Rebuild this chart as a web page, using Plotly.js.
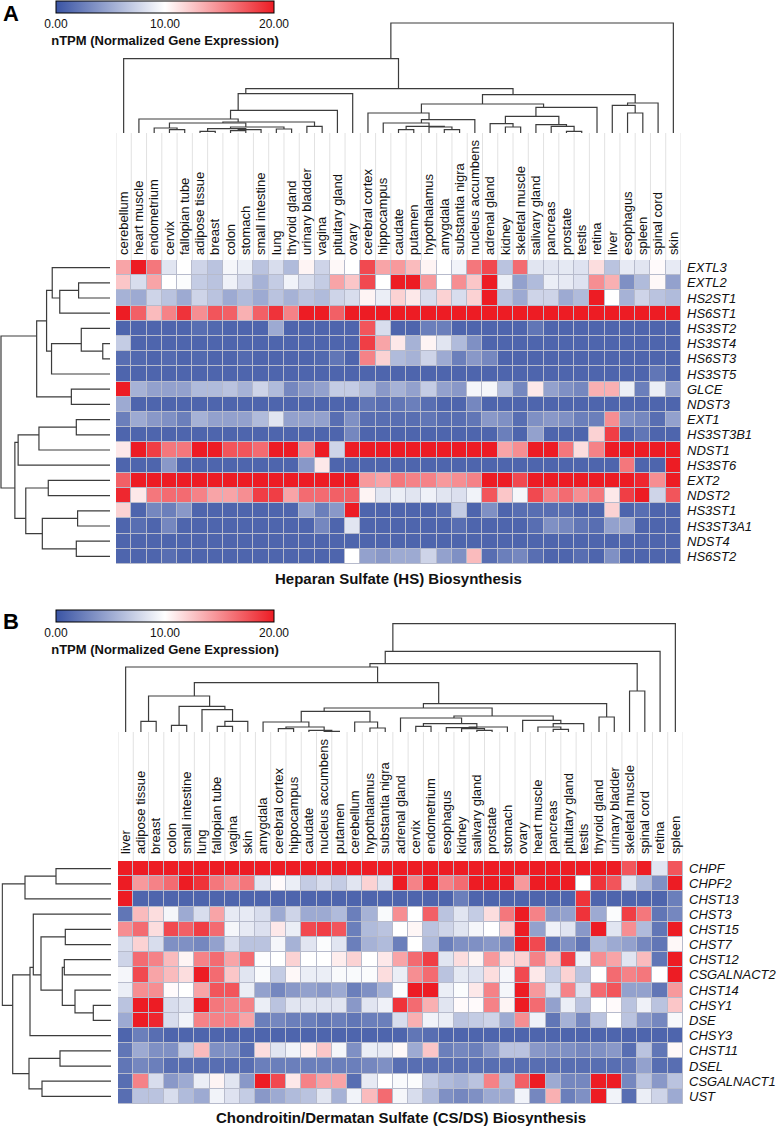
<!DOCTYPE html>
<html>
<head>
<meta charset="utf-8">
<script src="https://cdn.plot.ly/plotly-3.0.1.min.js"></script>
<style>
  html, body { margin: 0; padding: 0; background: #fff; }
  #chart { width: 777px; height: 1126px; }
</style>
</head>
<body>
<div id="chart"></div>
<script>
(function () {
    // Panel A : heparan sulfate genes / tissues
    const tissuesA = ['cerebellum', 'heart muscle', 'endometrium', 'cervix', 'fallopian tube', 'adipose tissue',
        'breast', 'colon', 'stomach', 'small intestine', 'lung', 'thyroid gland', 'urinary bladder', 'vagina',
        'pituitary gland', 'ovary', 'cerebral cortex', 'hippocampus', 'caudate', 'putamen', 'hypothalamus',
        'amygdala', 'substantia nigra', 'nucleus accumbens', 'adrenal gland', 'kidney', 'skeletal muscle',
        'salivary gland', 'pancreas', 'prostate', 'testis', 'retina', 'liver', 'esophagus', 'spleen',
        'spinal cord', 'skin'];
    const genesA = ['EXTL3', 'EXTL2', 'HS2ST1', 'HS6ST1', 'HS3ST2', 'HS3ST4', 'HS6ST3', 'HS3ST5', 'GLCE', 'NDST3',
        'EXT1', 'HS3ST3B1', 'NDST1', 'HS3ST6', 'EXT2', 'NDST2', 'HS3ST1', 'HS3ST3A1', 'NDST4', 'HS6ST2'];

    // nTPM values (row = gene, column = tissue)
    const exprA = [
        [14, 20, 16, 8.5, 10, 7.5, 6.5, 9.5, 9, 6.5, 8, 6, 10.5, 7.5, 10.3, 10, 18, 14, 14.5, 13, 10.5, 10, 9.3, 16, 18, 6.5, 16.5, 8.5, 8.5, 8.7, 8.3, 11.5, 6.5, 8.8, 8.5, 10.2, 8.8],
        [12.5, 8, 14, 10, 9.8, 7, 6.5, 9.2, 7.8, 5.5, 7, 9.3, 8, 7, 14, 12.5, 18, 10, 20, 20, 14.5, 10, 15, 12.5, 20, 9, 4.5, 6, 9, 8.8, 8.3, 15, 13.5, 3.5, 6, 10.3, 4.5],
        [5.5, 5, 7.5, 6.5, 5, 7.5, 6.5, 5, 6, 5, 6.5, 5.5, 6.5, 6, 7.5, 8, 10.5, 9, 12, 11, 8, 12, 8, 12, 20, 6.5, 5, 7.5, 7.5, 5, 6, 20, 10, 5.5, 7.5, 6.5, 6],
        [20, 17, 13, 15.5, 19, 15, 17.5, 17, 13.5, 17, 19, 15.5, 20, 20, 17, 20, 20, 20, 20, 20, 20, 20, 20, 20, 20, 20, 20, 20, 20, 20, 20, 20, 20, 20, 20, 20, 20],
        [1, 1, 1, 1, 1, 1.5, 1.2, 1, 1, 1, 5, 1, 1, 1, 1, 1, 17.5, 8, 1, 1, 2.5, 2.5, 1, 1, 1, 1, 1, 2, 1, 1, 1, 1, 1, 1, 1, 1, 1],
        [7, 1, 1, 1, 1, 1, 1, 1, 1, 1, 1, 1, 1, 1, 1, 1, 18.5, 14, 11, 5.5, 10.5, 8.5, 6, 3.5, 1, 1, 1, 1, 1, 1, 1, 1, 1, 1, 1, 1, 1],
        [1.5, 1.2, 1, 1.3, 1, 1.2, 1, 1, 1.3, 1, 1, 1, 1, 1.2, 2, 1, 15.5, 12, 6, 5.5, 7.5, 5, 2.5, 4, 3, 1, 1, 1, 1, 1, 1, 1, 1, 1, 1, 1, 1],
        [1, 1, 1, 1, 1, 1, 1, 1, 1, 1, 1, 1, 1, 1, 1, 1, 1, 1, 1, 1, 1, 1, 1, 1, 1, 1, 1, 1, 1, 1, 1, 1, 1, 1, 1, 2, 1],
        [20, 5.5, 4.5, 4.5, 4.5, 6, 6, 6.5, 5.5, 7.5, 6, 3, 4, 4.5, 7, 7, 6, 4, 5.5, 4.5, 7, 4.5, 4, 9.5, 9.5, 6, 3, 11, 4.5, 3.5, 3, 13.5, 13.5, 9, 2.5, 9, 4.5],
        [5, 1, 1, 1, 1, 1, 1, 1, 1, 1, 1, 1, 1, 1, 1, 1, 2, 1.5, 2, 2.5, 1.5, 1, 1, 3, 1, 1, 1, 1, 1, 1, 1, 1, 1, 1, 1, 1, 1],
        [2.5, 5, 4, 3.5, 2.5, 5.5, 4.5, 4.5, 4.5, 6, 8.5, 4.5, 4.5, 4.5, 1.5, 3.5, 1.5, 1.5, 1.5, 1.5, 2, 1.5, 1.5, 2, 4, 3.5, 1.5, 3.5, 4, 3.5, 2.5, 2.5, 15, 3.5, 3, 1.5, 4.5],
        [1, 1, 1, 1, 1, 1, 1, 1, 1, 1, 1, 1, 1, 1, 1, 3, 1, 1, 1, 1, 1, 1, 1, 1, 1, 2.5, 1, 4.5, 1, 1, 1, 12, 18.5, 1, 2, 1, 1],
        [11, 20, 18.5, 16, 16, 20, 20, 17.5, 17.5, 16.5, 20, 20, 15, 20, 7.5, 20, 20, 20, 20, 20, 20, 20, 20, 20, 20, 14, 15, 20, 20, 16, 11.5, 15.5, 20, 20, 20, 20, 20],
        [1, 1, 1, 4, 1, 1, 1, 1, 1, 1, 1, 1, 4, 11, 1, 1, 1, 1, 1, 1, 1, 1, 1, 1, 1, 1, 1, 1, 1, 1, 1, 1, 1, 16, 1, 1, 20],
        [17, 20, 20, 20, 20, 20, 20, 20, 20, 20, 20, 20, 20, 20, 20, 20, 14.5, 14, 16, 15.5, 15.5, 14.5, 15, 15.5, 20, 20, 18, 20, 20, 20, 20, 20, 20, 20, 19.5, 15, 20],
        [19.5, 11, 16, 16.5, 16.5, 15.5, 14, 14, 15, 18.5, 18.5, 14, 16.5, 16.5, 17, 17, 10.5, 8.5, 9, 8.5, 9.2, 8.5, 8.2, 9.3, 17.5, 12.5, 9.5, 18, 15.5, 16.5, 15, 16, 11, 18.5, 20, 7.5, 17.5],
        [12, 1, 3, 2.5, 4, 1, 1, 1, 1, 1, 1, 1, 4.5, 2.5, 4, 20, 1, 1, 1, 1, 1, 1.5, 7, 1, 3.5, 1, 1.5, 1.5, 1.5, 1.5, 1, 1, 12, 1, 1.5, 1, 1],
        [1, 1.5, 1, 3, 1, 1, 1, 1, 1, 1, 1, 1, 1, 3, 1, 8.5, 1, 1, 1, 1, 1, 1, 1.5, 1, 1, 1, 1, 1.5, 3.5, 3, 2, 1.5, 4.5, 4.5, 1, 1, 1],
        [1, 1, 1, 1, 1, 1, 1, 1, 1, 1, 1, 1, 1, 1, 1, 1, 1, 1, 1, 1, 1, 1, 1, 1, 1, 1, 1, 1, 1, 1, 1, 1, 1, 1, 1, 1, 1],
        [1, 1, 1, 1.5, 1, 1, 1, 1, 1, 1, 1, 1, 1, 1, 1, 10, 4.5, 4, 5, 5, 7.5, 4.5, 3.5, 13, 1.5, 2.5, 3, 1.5, 1, 1, 1.5, 1, 3.5, 1, 1, 1, 1]
    ];

    // Panel B : chondroitin / dermatan sulfate
    const tissuesB = ['liver', 'adipose tissue', 'breast', 'colon', 'small intestine', 'lung', 'fallopian tube',
        'vagina', 'skin', 'amygdala', 'cerebral cortex', 'hippocampus', 'caudate', 'nucleus accumbens', 'putamen',
        'cerebellum', 'hypothalamus', 'substantia nigra', 'adrenal gland', 'cervix', 'endometrium', 'esophagus',
        'kidney', 'salivary gland', 'prostate', 'stomach', 'ovary', 'heart muscle', 'pancreas', 'pituitary gland',
        'testis', 'thyroid gland', 'urinary bladder', 'skeletal muscle', 'spinal cord', 'retina', 'spleen'];
    const genesB = ['CHPF', 'CHPF2', 'CHST13', 'CHST3', 'CHST15', 'CHST7', 'CHST12', 'CSGALNACT2', 'CHST14',
        'CHSY1', 'DSE', 'CHSY3', 'CHST11', 'DSEL', 'CSGALNACT1', 'UST'];

    const exprB = [
        [20, 20, 20, 20, 20, 20, 20, 20, 20, 20, 20, 20, 20, 20, 20, 20, 20, 20, 20, 20, 20, 20, 20, 20, 20, 20, 20, 20, 20, 20, 20, 20, 20, 17.5, 20, 8.5, 17.5],
        [20, 14.5, 15.5, 16.5, 20, 19, 16, 15, 16, 8.5, 10.2, 9, 7, 8, 7, 8.5, 12, 8.5, 20, 15.5, 20, 15.5, 16.5, 20, 20, 20, 14.5, 20, 20, 20, 10, 19, 17.5, 8.5, 6, 3.5, 20],
        [20, 1, 1, 1, 1, 1, 1, 1, 1, 1, 1, 1, 1, 1, 1, 1, 1, 1, 1, 1, 1, 1, 2.5, 1, 1, 1, 1, 1, 1, 1, 19, 1, 1, 1, 1, 1, 2.5],
        [2, 13, 11.5, 9.5, 5, 8, 14, 8.8, 8.8, 8, 5, 7.5, 5, 5, 6, 2.5, 5.5, 9.7, 15, 10, 17, 6.5, 8.5, 7, 11.5, 16, 20, 15.5, 4, 4.5, 19, 5, 9.8, 18.5, 16, 2, 3],
        [15, 16.5, 11.5, 18, 17, 18.5, 16.5, 9.5, 8.8, 8.2, 11, 9, 18, 18.5, 17.5, 2.5, 6, 6.5, 10, 10.4, 6.5, 7.5, 8.5, 9.5, 10, 12, 20, 4.5, 9.2, 8.5, 4, 20, 8.5, 15, 6, 2, 20],
        [8, 12, 8, 3.5, 3.5, 3, 4.5, 8, 6.5, 6.5, 9.5, 5.5, 8.5, 9.8, 8.5, 2.5, 5.5, 6, 2.5, 10, 6, 2.5, 3.5, 3.5, 4, 3, 20, 18, 2, 3.5, 2, 6, 5, 4.5, 3, 2, 10.3],
        [7.5, 16.5, 15.5, 13, 10.5, 15.5, 16.5, 14, 16.5, 9.9, 10, 12, 10, 10, 10.8, 12, 10, 11, 14, 16.5, 18.5, 8.5, 11.5, 10.5, 14.5, 11.5, 12, 15.5, 12.5, 18.5, 9.2, 15, 14, 8.5, 13, 2, 20],
        [9.5, 18, 14, 13, 11.5, 20, 16.5, 12.5, 8.5, 9.7, 7, 10.3, 9, 9, 9.7, 9.7, 9.8, 11.5, 9, 15, 16.5, 6.5, 8.7, 8.3, 11.5, 9.5, 18, 11, 7, 12, 6.5, 10, 16.5, 15.5, 16, 10, 20],
        [9, 15, 15, 10.2, 10, 14, 17.5, 17.5, 9, 4.5, 3, 4, 4.5, 4, 5, 2.5, 3.5, 5.5, 9.8, 20, 20, 9, 9.8, 11, 15.5, 9.5, 20, 14.5, 8.3, 15.5, 8.3, 16.5, 17.5, 4.5, 4.5, 2, 14.5],
        [6.5, 20, 20, 8, 8.5, 20, 16, 15.5, 15.5, 9, 6.5, 8.5, 8.5, 8.5, 8.5, 4, 8.5, 9.2, 19, 16.5, 13.5, 8.5, 10.2, 10.2, 15.5, 10.5, 20, 16.5, 4.5, 9, 6.5, 10, 10.2, 6.5, 9.2, 6.5, 12.5],
        [5, 20, 19.5, 8, 9.3, 15.5, 15.5, 15.5, 14, 2.5, 3, 2.5, 2.5, 2, 2.5, 2, 2.5, 2.5, 8, 13.5, 9.3, 9, 6.5, 7, 7.5, 5, 15, 9.2, 2, 5.5, 3, 6.5, 10, 6.5, 4, 3, 9.6],
        [1, 2.5, 1.5, 1, 1, 1, 1, 1, 1, 1, 1, 1, 1, 1, 1, 1, 1, 1, 1, 2, 1.5, 1, 1, 1, 1, 1, 1, 1, 1, 1, 1, 1, 1, 1, 1, 1, 1],
        [2, 5, 3.5, 3.5, 7, 13, 3.5, 3.5, 1.5, 11.5, 8.5, 9.3, 10.8, 12.5, 9.5, 3.5, 9, 8.8, 10.3, 5, 12.5, 2.5, 3, 2.5, 4, 6.5, 6.5, 4, 3.5, 3.5, 3, 3.5, 4, 1.5, 6.5, 2, 10.3],
        [2, 3, 2.5, 1.5, 1.5, 1.5, 1.5, 1.5, 1.5, 2.5, 2.5, 2.5, 2.5, 2.5, 2.5, 2.5, 3, 3.5, 1.5, 1.5, 1.5, 1.5, 1.5, 1.5, 1.5, 1.5, 1.5, 1.5, 1.5, 1.5, 1.5, 1.5, 1.5, 2, 4.5, 1.5, 1.5],
        [1.5, 15.5, 8, 4, 5, 9, 10.5, 8.5, 4, 20, 18, 11, 15.5, 14, 14, 1.5, 8.8, 10, 9.7, 9.8, 7, 6, 5.5, 6.5, 15.5, 6, 17, 20, 5, 3, 3, 20, 20, 3, 6.5, 4, 6.5],
        [1.5, 6.5, 6.5, 8, 6, 5, 9.3, 8.3, 7, 4, 5, 6, 6.5, 8.5, 5.5, 9.3, 13, 16.5, 9.5, 8, 6, 3.5, 3, 3.5, 5, 5, 9.3, 3, 13.5, 2.5, 3.5, 20, 9.3, 1.5, 9, 7.5, 5]
    ];

    // Dendrograms: [height, left, right], a number is a leaf index
    const treeTopA = [110, [74.3, 0, [44.3,
        [39.3, [22.7, [14, 1, [11, [10, [5, 2, [3.3, 3, 4]], [6, [4.3, [1.7, 5, 6], [3.3, [2.3, 7, 8], 9]], [4, 10, 11]]], [6.7, 12, 13]]], 14], 15],
        [38.3, [29, [20, 16, [13.3, [10, 17, [6.7, [3.3, 18, 19], [6, 20, [3.3, 21, 22]]]], 23]],
                   [25.7, [16.7, [9.3, 24, [6, 25, 26]], [8.3, 27, [6.7, 28, [1.7, 29, 30]]]], 31]],
               [30, [27.7, 32, [20, 33, 34]], 35]]]], 36];

    const treeLeftA = [110,
        [74, [64, [58.3, 0, [50.7, [31.7, 1, 2], 3]], [59, [29, 4, [7.3, 5, 6]], 7]], [39, 8, 9]],
        [96, [92.7, [71.7, [34, 10, 11], 12], 13], [85, [62.3, 14, 15], [68.3, [32.7, 16, 17], [34, 18, 19]]]]];

    const treeTopB = [108.3, [80.7, [68.3, [65, 0, [49.3,
        [36, [10.7, 1, 2], [25.7, [6.7, 3, 4], [22.3, 5, [10.7, [5.7, 6, 7], 8]]]],
        [28.3, [24, [20.7, [10, 9, [5, [3.3, 10, 11], [1.7, 12, [0.7, 13, 14]]]], [10, 15, [4, 16, 17]]],
                    [16, [14, 18, [8.3, [5.7, 19, 20], [5, [4.3, 21, [3.3, 22, [1.7, 23, 24]]], 25]]],
                         [11.7, 26, [8.3, [5, 27, [2.7, 28, 29]], 30]]]],
               [15, 31, 32]]]], [41, 33, 34]], 35], 36];

    const treeLeftB = [108.7, [86, [55, 0, 1], 2],
        [98.3, [81, [77.7, 3, [70, [45.7, 4, 5], [48.7, [46.7, 6, 7], [36, 8, [17.7, 9, 10]]]]], 11],
               [82, [51, 12, 13], [69, 14, 15]]]];

    const W = 777, H = 1126;
    const px = v => v / W;
    const py = v => 1 - v / H;
    const font = 'Liberation Sans, Arial, Helvetica, sans-serif';
    const scale = [[0, '#3a54a4'], [0.5, '#ffffff'], [1, '#ed1c24']];

    // segments of a dendrogram, node placed at the mean of its leaves
    function dendro(tree, orient) {
        const xs = [], ys = [];
        function walk(node) {
            if (typeof node === 'number') return { pos: node, h: 0, leaves: [node] };
            const L = walk(node[1]), R = walk(node[2]);
            const leaves = L.leaves.concat(R.leaves);
            const pos = leaves.reduce((s, v) => s + v, 0) / leaves.length;
            const pts = [[L.pos, L.h], [L.pos, node[0]], [R.pos, node[0]], [R.pos, R.h]];
            pts.forEach(p => {
                if (orient === 'top') { xs.push(p[0]); ys.push(p[1]); }
                else { xs.push(p[1]); ys.push(p[0]); }
            });
            xs.push(null); ys.push(null);
            return { pos: pos, h: node[0], leaves: leaves };
        }
        walk(tree);
        return { xs: xs, ys: ys };
    }

    function lineTrace(d, xa, ya) {
        return {
            type: 'scatter', mode: 'lines', x: d.xs, y: d.ys, xaxis: xa, yaxis: ya,
            line: { color: '#3c3c3c', width: 1.2 }, hoverinfo: 'skip', showlegend: false
        };
    }

    function colorbar(top) {
        return {
            orientation: 'h', x: px(56), xanchor: 'left', y: py(top), yanchor: 'top',
            len: 218, lenmode: 'pixels', thickness: 12, thicknessmode: 'pixels',
            xpad: 0, ypad: 0, outlinecolor: '#000', outlinewidth: 1,
            tickvals: [0, 10, 20], ticktext: ['0.00', '10.00', '20.00'], ticks: '',
            tickfont: { family: font, size: 12, color: '#111' },
            title: { text: '<b>nTPM (Normalized Gene Expression)</b>', side: 'bottom', font: { family: font, size: 13, color: '#111' } }
        };
    }

    const idxA = tissuesA.map((t, i) => i);
    const idxB = tissuesB.map((t, i) => i);

    const heatA = {
        type: 'heatmap', z: exprA, x: idxA, y: genesA.map((g, i) => i), xaxis: 'x', yaxis: 'y',
        colorscale: scale, zmin: 0, zmax: 20, xgap: 1, ygap: 1, hoverinfo: 'skip',
        colorbar: colorbar(1)
    };
    const heatB = {
        type: 'heatmap', z: exprB, x: idxB, y: genesB.map((g, i) => i), xaxis: 'x4', yaxis: 'y4',
        colorscale: scale, zmin: 0, zmax: 20, xgap: 1, ygap: 1, hoverinfo: 'skip',
        colorbar: colorbar(610)
    };

    const traces = [
        heatA,
        lineTrace(dendro(treeTopA, 'top'), 'x2', 'y2'),
        lineTrace(dendro(treeLeftA, 'left'), 'x3', 'y3'),
        heatB,
        lineTrace(dendro(treeTopB, 'top'), 'x5', 'y5'),
        lineTrace(dendro(treeLeftB, 'left'), 'x6', 'y6')
    ];

    const hidden = { visible: false, fixedrange: true };
    const tickFont = { family: font, size: 13, color: '#111' };

    const shapes = [];
    // grey backing behind each heatmap, seen through the cell gaps
    shapes.push({ type: 'rect', xref: 'x domain', yref: 'y domain', x0: 0, x1: 1, y0: 0, y1: 1,
        fillcolor: '#b7bbcc', line: { width: 0 }, layer: 'below' });
    shapes.push({ type: 'rect', xref: 'x4 domain', yref: 'y4 domain', x0: 0, x1: 1, y0: 0, y1: 1,
        fillcolor: '#b7bbcc', line: { width: 0 }, layer: 'below' });
    // light vertical guides between the label columns
    for (let i = 0; i <= tissuesA.length; i++) {
        shapes.push({ type: 'line', xref: 'x', yref: 'paper', x0: i - 0.5, x1: i - 0.5, y0: py(260), y1: py(133),
            line: { color: '#e2e2e2', width: 1 }, layer: 'below' });
    }
    for (let i = 0; i <= tissuesB.length; i++) {
        shapes.push({ type: 'line', xref: 'x4', yref: 'paper', x0: i - 0.5, x1: i - 0.5, y0: py(861), y1: py(732),
            line: { color: '#e2e2e2', width: 1 }, layer: 'below' });
    }

    const layout = {
        width: W, height: H,
        margin: { l: 0, r: 0, t: 0, b: 0 },
        paper_bgcolor: '#ffffff', plot_bgcolor: 'rgba(0,0,0,0)',
        showlegend: false,
        font: { family: font, color: '#111' },
        // panel A
        xaxis: {
            domain: [px(116), px(681)], range: [-0.5, 36.5], anchor: 'y', side: 'top',
            tickvals: idxA, ticktext: tissuesA, tickangle: -90, ticks: '', ticklabelstandoff: 4,
            showgrid: false, zeroline: false, showline: false, tickfont: tickFont, fixedrange: true
        },
        yaxis: {
            domain: [py(564), py(260)], range: [19.5, -0.5], anchor: 'x', side: 'right',
            tickvals: genesA.map((g, i) => i), ticktext: genesA.map(g => '<i>' + g + '</i>'),
            ticks: '', ticklabelstandoff: 5, showgrid: false, zeroline: false, tickfont: tickFont, fixedrange: true
        },
        xaxis2: Object.assign({ domain: [px(116), px(681)], range: [-0.5, 36.5], anchor: 'y2' }, hidden),
        yaxis2: Object.assign({ domain: [py(134), py(22)], range: [-1, 111], anchor: 'x2' }, hidden),
        xaxis3: Object.assign({ domain: [0, px(111)], range: [111, -1], anchor: 'y3' }, hidden),
        yaxis3: Object.assign({ domain: [py(564), py(260)], range: [19.5, -0.5], anchor: 'x3' }, hidden),
        // panel B
        xaxis4: {
            domain: [px(118), px(683)], range: [-0.5, 36.5], anchor: 'y4', side: 'top',
            tickvals: idxB, ticktext: tissuesB, tickangle: -90, ticks: '', ticklabelstandoff: 6,
            showgrid: false, zeroline: false, showline: false, tickfont: tickFont, fixedrange: true
        },
        yaxis4: {
            domain: [py(1104), py(861)], range: [15.5, -0.5], anchor: 'x4', side: 'right',
            tickvals: genesB.map((g, i) => i), ticktext: genesB.map(g => '<i>' + g + '</i>'),
            ticks: '', ticklabelstandoff: 5, showgrid: false, zeroline: false, tickfont: tickFont, fixedrange: true
        },
        xaxis5: Object.assign({ domain: [px(118), px(683)], range: [-0.5, 36.5], anchor: 'y5' }, hidden),
        yaxis5: Object.assign({ domain: [py(733), py(622.7)], range: [-1, 109.3], anchor: 'x5' }, hidden),
        xaxis6: Object.assign({ domain: [px(1.3), px(112)], range: [109.7, -1], anchor: 'y6' }, hidden),
        yaxis6: Object.assign({ domain: [py(1104), py(861)], range: [15.5, -0.5], anchor: 'x6' }, hidden),
        shapes: shapes,
        annotations: [
            { text: '<b>A</b>', xref: 'paper', yref: 'paper', x: px(1), y: py(14), xanchor: 'left', yanchor: 'middle',
              showarrow: false, font: { family: font, size: 22, color: '#000' } },
            { text: '<b>B</b>', xref: 'paper', yref: 'paper', x: px(1), y: py(621), xanchor: 'left', yanchor: 'middle',
              showarrow: false, font: { family: font, size: 22, color: '#000' } },
            { text: '<b>Heparan Sulfate (HS) Biosynthesis</b>', xref: 'paper', yref: 'paper', x: px(398.5), y: py(578),
              xanchor: 'center', yanchor: 'middle', showarrow: false, font: { family: font, size: 15, color: '#111' } },
            { text: '<b>Chondroitin/Dermatan Sulfate (CS/DS) Biosynthesis</b>', xref: 'paper', yref: 'paper',
              x: px(401), y: py(1117), xanchor: 'center', yanchor: 'middle', showarrow: false,
              font: { family: font, size: 15, color: '#111' } }
        ]
    };

    Plotly.newPlot('chart', traces, layout, { displayModeBar: false, staticPlot: true });
})();
</script>
</body>
</html>
